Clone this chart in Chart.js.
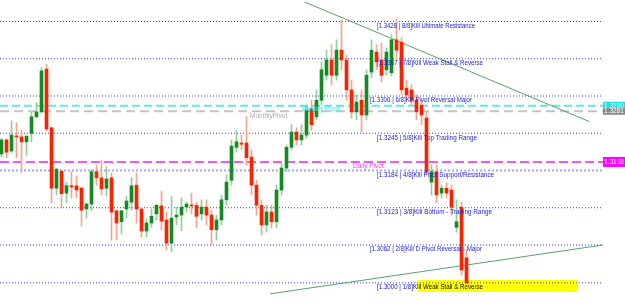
<!DOCTYPE html>
<html><head><meta charset="utf-8">
<script src="https://cdn.jsdelivr.net/npm/chart.js@4"></script>
<style>html,body{margin:0;padding:0;background:#fff;overflow:hidden}canvas{display:block}</style>
</head><body>
<canvas id="c" width="625" height="306"></canvas>
<script>
// ---- candle data ----
const opens  = [1.3211,1.3234,1.3216,1.3240,1.3239,1.3231,1.3245,1.3272,1.3280,1.3350,
                1.3254,1.3155,1.3183,1.3147,1.3159,1.3159,1.3155,1.3121,1.3129,1.3182,
                1.3172,1.3155,1.3172,1.3118,1.3100,1.3121,1.3132,1.3160,1.3121,1.3085,
                1.3098,1.3113,1.3126,1.3103,1.3065,1.3108,1.3111,1.3124,1.3127,1.3127,
                1.3113,1.3124,1.3111,1.3087,1.3103,1.3136,1.3168,1.3222,1.3229,1.3229,
                1.3206,1.3160,1.3127,1.3095,1.3116,1.3100,1.3152,1.3188,1.3222,1.3247,
                1.3234,1.3242,1.3285,1.3272,1.3299,1.3340,1.3365,1.3340,1.3381,1.3365,
                1.3316,1.3280,1.3299,1.3275,1.3345,1.3378,1.3365,1.3349,1.3344,1.3398,
                1.3394,1.3319,1.3316,1.3299,1.3291,1.3270,1.3165,1.3182,1.3147,1.3155,
                1.3152,1.3091,1.3124,1.3041];
const highs  = [1.3237,1.3236,1.3265,1.3262,1.3250,1.3242,1.3280,1.3295,1.3353,1.3358,
                1.3255,1.3188,1.3185,1.3165,1.3182,1.3175,1.3157,1.3131,1.3186,1.3193,
                1.3201,1.3190,1.3180,1.3119,1.3119,1.3142,1.3172,1.3180,1.3123,1.3105,
                1.3121,1.3129,1.3150,1.3116,1.3141,1.3124,1.3139,1.3132,1.3147,1.3132,
                1.3136,1.3136,1.3119,1.3111,1.3144,1.3177,1.3234,1.3250,1.3242,1.3272,
                1.3218,1.3168,1.3136,1.3127,1.3127,1.3160,1.3196,1.3226,1.3259,1.3254,
                1.3259,1.3291,1.3299,1.3316,1.3362,1.3381,1.3390,1.3398,1.3430,1.3373,
                1.3332,1.3308,1.3316,1.3349,1.3398,1.3390,1.3393,1.3385,1.3406,1.3432,
                1.3401,1.3332,1.3324,1.3308,1.3299,1.3280,1.3193,1.3193,1.3160,1.3164,
                1.3160,1.3136,1.3132,1.3054];
const lows   = [1.3206,1.3205,1.3214,1.3205,1.3180,1.3209,1.3231,1.3270,1.3278,1.3249,
                1.3131,1.3144,1.3123,1.3131,1.3139,1.3139,1.3093,1.3106,1.3118,1.3160,
                1.3144,1.3142,1.3070,1.3070,1.3080,1.3106,1.3119,1.3098,1.3075,1.3075,
                1.3091,1.3103,1.3087,1.3054,1.3051,1.3095,1.3085,1.3116,1.3113,1.3090,
                1.3103,1.3095,1.3062,1.3070,1.3095,1.3127,1.3160,1.3214,1.3218,1.3193,
                1.3144,1.3111,1.3078,1.3083,1.3090,1.3090,1.3144,1.3182,1.3218,1.3226,
                1.3226,1.3237,1.3250,1.3267,1.3291,1.3332,1.3324,1.3332,1.3349,1.3299,
                1.3270,1.3267,1.3247,1.3267,1.3336,1.3349,1.3329,1.3340,1.3339,1.3365,
                1.3308,1.3299,1.3291,1.3267,1.3259,1.3177,1.3144,1.3131,1.3139,1.3139,
                1.3111,1.3083,1.3013,1.2998];
const closes = [1.3234,1.3214,1.3242,1.3239,1.3231,1.3240,1.3272,1.3280,1.3347,1.3252,
                1.3155,1.3186,1.3146,1.3159,1.3157,1.3152,1.3119,1.3129,1.3182,1.3172,
                1.3154,1.3170,1.3116,1.3098,1.3118,1.3134,1.3159,1.3121,1.3085,1.3098,
                1.3109,1.3127,1.3101,1.3065,1.3106,1.3111,1.3124,1.3129,1.3126,1.3109,
                1.3124,1.3111,1.3087,1.3103,1.3136,1.3165,1.3224,1.3231,1.3227,1.3205,
                1.3160,1.3127,1.3095,1.3116,1.3100,1.3152,1.3188,1.3222,1.3247,1.3234,
                1.3242,1.3283,1.3259,1.3299,1.3349,1.3365,1.3340,1.3381,1.3365,1.3316,
                1.3280,1.3296,1.3275,1.3340,1.3381,1.3362,1.3340,1.3378,1.3398,1.3381,
                1.3316,1.3308,1.3299,1.3280,1.3275,1.3182,1.3182,1.3144,1.3155,1.3147,
                1.3124,1.3100,1.3021,1.3000];

// ---- Murrey math levels and labels ----
const levelPrices = [1.3428,1.3367,1.3306,1.3245,1.3184,1.3123,1.3062,1.3000];
const levelTags   = ["[1.3428 | 8/8]","[1.3367 | 7/8]","[1.3306 | 6/8]","[1.3245 | 5/8]",
                     "[1.3184 | 4/8]","[1.3123 | 3/8]","[1.3062 | 2/8]","[1.3000 | 1/8]"];
const levelNames  = ["Kill Ultimate Resistance","Kill Weak Stall & Reverse","Kill Pivot Reversal Major",
                     "Kill Top Trading Range","Kill Pivot Support/Resistance","Kill Bottom - Trading Range",
                     "Kill D Pivot Reversal - Major","Kill Weak Stall & Reverse"];

// ---- pivots ----
const pivotNames  = ["Weekly Pivot","MonthlyPivot","Daily Pivot"];
const pivotPrices = [1.3290,1.3281,1.3198];
const pivotTicks  = ["1.3290","1.3281","1.3198"];

// ---- trend lines (bar index, price) ----
const trendDownX = [60.6,117.6];
const trendDownY = [1.3460,1.3264];
const trendUpX   = [53.7,120.3];
const trendUpY   = [1.2982,1.3062];

const X_MIN = -0.3, X_MAX = 124.7, Y_MIN = 1.29621, Y_MAX = 1.34632, X_END = 120.3;

const idx = opens.map((_, i) => i);
const up = i => closes[i] >= opens[i];

const wickDs = {
  type:'bar', order:0, grouped:false, barThickness:1, borderWidth:0, minBarLength:1,
  data: idx.map(i => ({x:i, y:[lows[i], highs[i]]})),
  backgroundColor: idx.map(i => up(i) ? '#8fcf98' : '#f6a58c')
};
const bodyDs = {
  type:'bar', order:0, grouped:false, barThickness:3, borderWidth:0, minBarLength:1,
  data: idx.map(i => ({x:i, y:[opens[i], closes[i]]})),
  backgroundColor: idx.map(i => up(i) ? '#168a22' : '#fa2200')
};

function hline(price, color, dash, width){
  return {type:'line', order:2, data:[{x:X_MIN, y:price},{x:X_END, y:price}],
          borderColor:color, borderDash:dash, borderWidth:width, pointRadius:0, fill:false, tension:0};
}
const lineSets = [];
levelPrices.forEach((p, k) => {
  if (k === 4) lineSets.push(hline(p, '#a8a8f4', [2,2], 2));
  else lineSets.push(hline(p, '#3b3bf0', [1,2], 1));
});
lineSets.push(hline(pivotPrices[0], '#5ee8e8', [8,4], 2));
lineSets.push(hline(pivotPrices[1], '#c4c4c4', [9,5], 2));
lineSets.push(hline(pivotPrices[2], '#f020f0', [9,4], 1.5));
lineSets.push({type:'line', order:1, data: trendDownX.map((x,k)=>({x, y:trendDownY[k]})),
  borderColor:'#55a468', borderWidth:1, pointRadius:0, fill:false, tension:0});
lineSets.push({type:'line', order:1, data: trendUpX.map((x,k)=>({x, y:trendUpY[k]})),
  borderColor:'#55a468', borderWidth:1, pointRadius:0, fill:false, tension:0});

const decor = {
  id:'decor',
  beforeDatasetsDraw(chart){
    const {ctx, scales:{x, y}} = chart;
    const x0 = x.getPixelForValue(83.3), x1 = x.getPixelForValue(115.3);
    const y0 = y.getPixelForValue(1.30047), y1 = y.getPixelForValue(1.2985);
    ctx.save();
    ctx.fillStyle = '#ffff00';
    ctx.fillRect(x0, y0, x1 - x0, y1 - y0);
    ctx.restore();
  },
  afterDatasetsDraw(chart){
    const {ctx, scales:{x, y}} = chart;
    ctx.save();
    ctx.textBaseline = 'middle';
    ctx.font = '6.5px "Liberation Sans", Arial, sans-serif';
    const starts = [75.1,75.1,73.7,75.1,75.1,75.1,73.7,75.1];
    const widths = [98,106,102,100,117,115,112,106];
    levelPrices.forEach((p, k) => {
      const px = x.getPixelForValue(starts[k]);
      const py = y.getPixelForValue(p) + 4.5;
      const full = levelTags[k] + levelNames[k];
      const tw = ctx.measureText(full).width;
      const scale = Math.min(1, widths[k] / tw);
      ctx.save();
      ctx.translate(px, py);
      ctx.scale(scale, 1);
      ctx.fillStyle = '#2323d8';
      ctx.fillText(levelTags[k], 0, 0);
      const tagW = ctx.measureText(levelTags[k]).width;
      ctx.fillStyle = (k === 7) ? '#111111' : '#2323d8';
      ctx.fillText(levelNames[k], tagW, 0);
      ctx.restore();
    });
    const capX = [60.1, 49.7, 70.3];
    const capOff = [3.5, 5, 4];
    const capCol = ['#40e0e0', '#a8a8a8', '#f040f0'];
    const capW = [40, 39, 33];
    pivotNames.forEach((n, k) => {
      const px = x.getPixelForValue(capX[k]);
      const py = y.getPixelForValue(pivotPrices[k]) + capOff[k];
      const tw = ctx.measureText(n).width;
      ctx.save();
      ctx.translate(px, py);
      ctx.scale(Math.min(1, capW[k] / tw), 1);
      ctx.fillStyle = capCol[k];
      ctx.fillText(n, 0, 0);
      ctx.restore();
    });
    const boxCol = ['#22dede', '#8a8a8a', '#ff00ff'];
    const boxH = [8, 7, 10];
    ctx.font = '7px "Liberation Sans", Arial, sans-serif';
    ctx.textAlign = 'center';
    pivotTicks.forEach((t, k) => {
      const bx = x.getPixelForValue(X_END);
      const by = y.getPixelForValue(pivotPrices[k]);
      ctx.fillStyle = boxCol[k];
      ctx.fillRect(bx, by - boxH[k] / 2, chart.width - bx, boxH[k]);
      ctx.fillStyle = '#ffffff';
      ctx.fillText(t, (bx + chart.width) / 2, by, chart.width - bx - 2);
    });
    ctx.restore();
  }
};

new Chart(document.getElementById('c'), {
  type:'bar',
  data:{ datasets:[bodyDs, wickDs, ...lineSets] },
  options:{
    responsive:false, animation:false, devicePixelRatio:1,
    layout:{padding:0},
    plugins:{legend:{display:false}, tooltip:{enabled:false}},
    scales:{
      x:{type:'linear', min:X_MIN, max:X_MAX, display:false, offset:false, grid:{display:false}},
      y:{type:'linear', min:Y_MIN, max:Y_MAX, display:false, grid:{display:false}}
    }
  },
  plugins:[decor]
});
</script>
</body></html>
